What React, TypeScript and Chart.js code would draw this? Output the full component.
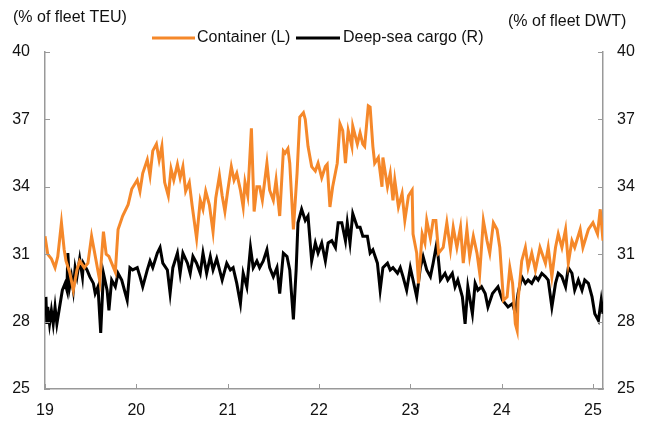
import { useEffect, useRef } from 'react';
import { Chart, registerables } from 'chart.js';

Chart.register(...registerables);

const containerYears = [
  19.00, 19.03, 19.07, 19.11, 19.14, 19.18, 19.21, 19.23, 19.27, 19.31,
  19.35, 19.38, 19.43, 19.47, 19.51, 19.56, 19.60, 19.64, 19.67, 19.70,
  19.77, 19.80, 19.85, 19.91, 19.95, 20.01, 20.04, 20.07, 20.12, 20.15,
  20.18, 20.22, 20.25, 20.28, 20.31, 20.35, 20.38, 20.41, 20.45, 20.48,
  20.51, 20.54, 20.58, 20.61, 20.63, 20.66, 20.70, 20.73, 20.76, 20.80,
  20.84, 20.87, 20.91, 20.94, 20.97, 21.00, 21.04, 21.07, 21.10, 21.14,
  21.17, 21.19, 21.22, 21.26, 21.29, 21.32, 21.35, 21.38, 21.43, 21.46,
  21.50, 21.53, 21.57, 21.61, 21.63, 21.66, 21.68, 21.72, 21.76, 21.79,
  21.83, 21.85, 21.88, 21.92, 21.96, 21.99, 22.03, 22.07, 22.09, 22.12,
  22.15, 22.20, 22.23, 22.26, 22.29, 22.32, 22.36, 22.37, 22.42, 22.45,
  22.48, 22.50, 22.54, 22.56, 22.59, 22.61, 22.65, 22.69, 22.70, 22.75,
  22.78, 22.81, 22.83, 22.87, 22.91, 22.94, 22.98, 23.02, 23.03, 23.07,
  23.09, 23.13, 23.16, 23.18, 23.22, 23.25, 23.28, 23.31, 23.36, 23.40,
  23.44, 23.47, 23.51, 23.55, 23.58, 23.62, 23.65, 23.69, 23.73, 23.76,
  23.80, 23.84, 23.87, 23.91, 23.95, 23.98, 24.02, 24.06, 24.09, 24.12,
  24.15, 24.17, 24.18, 24.22, 24.26, 24.29, 24.33, 24.37, 24.42, 24.48,
  24.51, 24.55, 24.59, 24.62, 24.66, 24.70, 24.73, 24.77, 24.80, 24.86,
  24.89, 24.95, 25.00, 25.05, 25.08, 25.11,
];

const containerValues = [
  31.8, 31.0, 30.8, 30.4, 30.9, 32.4, 31.2, 30.7, 30.2, 29.4,
  30.3, 30.7, 30.4, 30.6, 31.8, 30.7, 29.8, 32.0, 31.0, 30.9,
  30.2, 32.1, 32.7, 33.2, 33.9, 34.3, 33.8, 34.6, 35.2, 34.5,
  35.6, 35.9, 35.2, 35.8, 34.2, 33.6, 34.8, 34.3, 35.0, 34.4,
  34.9, 33.8, 34.2, 33.2, 32.6, 31.7, 33.4, 33.0, 33.8, 33.2,
  32.0, 33.5, 34.5, 33.6, 32.9, 33.8, 34.9, 34.3, 34.6, 33.85,
  33.1, 34.2, 33.6, 36.6, 32.9, 34.0, 34.0, 33.4, 35.05, 33.85,
  33.4, 34.3, 32.7, 35.6, 35.5, 35.7, 35.05, 32.1, 34.6, 37.1,
  37.3, 37.0, 35.8, 34.9, 34.7, 35.05, 34.4, 34.9, 35.0, 33.1,
  34.0, 35.05, 36.8, 36.5, 35.05, 36.5, 35.8, 36.7, 35.9, 36.4,
  35.9, 35.8, 37.6, 37.55, 35.8, 35.05, 35.3, 34.0, 35.3, 34.0,
  34.6, 33.4, 34.3, 33.1, 33.7, 32.5, 33.6, 33.85, 31.9, 31.05,
  29.7, 31.9, 31.5, 32.5, 31.7, 32.5, 32.5, 31.05, 31.3, 32.4,
  31.2, 32.2, 31.3, 32.2, 30.6, 32.1, 30.9, 31.8, 31.05, 30.15,
  32.5, 31.6, 31.05, 32.4, 32.1, 31.3, 28.95, 29.1, 30.4, 29.7,
  27.9, 27.6, 28.95, 30.7, 31.3, 30.4, 31.05, 30.3, 31.3, 30.6,
  31.3, 30.0, 31.3, 31.9, 31.3, 32.1, 30.6, 31.6, 31.3, 32.1,
  31.3, 32.1, 32.4, 31.9, 33.0, 31.6,
];

const deepSeaYears = [
  19.01, 19.02, 19.03, 19.05, 19.07, 19.09, 19.11, 19.13, 19.16, 19.19,
  19.22, 19.24, 19.25, 19.27, 19.29, 19.31, 19.33, 19.35, 19.38, 19.41,
  19.42, 19.46, 19.49, 19.53, 19.55, 19.58, 19.61, 19.64, 19.68, 19.70,
  19.73, 19.77, 19.80, 19.84, 19.88, 19.90, 19.93, 19.96, 20.01, 20.04,
  20.07, 20.12, 20.15, 20.18, 20.23, 20.26, 20.29, 20.34, 20.37, 20.40,
  20.45, 20.48, 20.51, 20.56, 20.59, 20.62, 20.66, 20.70, 20.73, 20.77,
  20.81, 20.84, 20.88, 20.94, 20.99, 21.03, 21.06, 21.10, 21.14, 21.17,
  21.21, 21.25, 21.28, 21.32, 21.35, 21.39, 21.43, 21.46, 21.50, 21.54,
  21.57, 21.61, 21.65, 21.68, 21.72, 21.75, 21.77, 21.81, 21.85, 21.88,
  21.92, 21.96, 21.99, 22.03, 22.07, 22.10, 22.14, 22.18, 22.21, 22.25,
  22.29, 22.31, 22.34, 22.37, 22.42, 22.45, 22.48, 22.53, 22.56, 22.59,
  22.64, 22.67, 22.70, 22.75, 22.78, 22.81, 22.86, 22.89, 22.92, 22.96,
  23.00, 23.03, 23.07, 23.11, 23.14, 23.18, 23.22, 23.25, 23.29, 23.33,
  23.38, 23.41, 23.46, 23.49, 23.52, 23.57, 23.60, 23.63, 23.68, 23.71,
  23.74, 23.78, 23.82, 23.85, 23.90, 23.93, 23.96, 24.01, 24.04, 24.07,
  24.12, 24.15, 24.18, 24.22, 24.26, 24.29, 24.33, 24.37, 24.40, 24.44,
  24.48, 24.51, 24.55, 24.59, 24.62, 24.66, 24.70, 24.73, 24.77, 24.80,
  24.84, 24.88, 24.91, 24.95, 24.99, 25.02, 25.06, 25.09, 25.11,
];

const deepSeaValues = [
  29.1, 27.9, 28.65, 27.9, 28.5, 27.9, 28.65, 27.9, 28.65, 29.4,
  29.7, 29.4, 31.05, 29.55, 30.0, 29.4, 30.4, 30.0, 30.8, 30.0,
  30.6, 30.3, 30.0, 29.7, 29.25, 29.55, 27.5, 30.15, 29.4, 28.5,
  29.85, 29.55, 30.15, 29.85, 29.25, 28.95, 30.4, 30.3, 30.4, 30.0,
  29.55, 30.3, 30.7, 30.4, 31.05, 31.3, 30.6, 30.3, 29.25, 30.4,
  31.05, 30.15, 31.05, 30.6, 30.15, 30.9, 30.6, 30.15, 31.05, 30.15,
  30.9, 30.3, 30.8, 29.85, 30.6, 30.3, 30.4, 29.7, 28.8, 30.15,
  29.55, 31.3, 30.4, 30.7, 30.4, 30.7, 31.2, 30.4, 30.0, 30.4,
  29.25, 31.05, 30.9, 30.3, 28.1, 30.3, 32.4, 33.0, 32.5, 32.7,
  30.7, 31.5, 31.05, 31.5, 30.7, 31.5, 31.6, 31.3, 32.4, 32.4,
  31.6, 32.4, 31.5, 32.8, 32.2, 32.2, 31.8, 31.8, 31.05, 31.2,
  30.6, 29.4, 30.4, 30.6, 30.3, 30.4, 30.15, 30.4, 30.0, 29.4,
  30.4, 29.85, 29.1, 30.4, 30.9, 30.3, 30.0, 30.6, 31.5, 29.85,
  30.15, 29.85, 30.15, 29.55, 29.85, 29.1, 27.9, 29.55, 28.35, 29.7,
  29.4, 29.55, 29.25, 28.65, 29.25, 29.4, 29.55, 28.95, 28.8, 28.65,
  28.8, 28.35, 29.25, 30.0, 29.7, 29.85, 29.7, 30.0, 29.85, 30.15,
  30.0, 29.85, 28.65, 29.7, 30.15, 30.0, 29.55, 30.4, 30.15, 29.4,
  29.85, 29.4, 29.85, 29.7, 29.1, 28.35, 28.05, 28.95, 28.35,
];

const xTickValues = [19, 20, 21, 22, 23, 24, 25];
const xTickLabels = ['19', '20', '21', '22', '23', '24', '25'];
const yTickValues = [25, 28, 31, 34, 37, 40];

const seriesLabels = ['Container (L)', 'Deep-sea cargo (R)'];
const leftAxisTitle = '(% of fleet TEU)';
const rightAxisTitle = '(% of fleet DWT)';

const ORANGE = '#F5882A';
const BLACK = '#000000';
const AXIS = '#999999';
const TEXT = '#111111';
const FONT_FAMILY = "'Liberation Sans', Arial, sans-serif";

const overlayPlugin = {
  id: 'overlay',
  afterDraw(chart: any) {
    const { ctx, chartArea, scales } = chart;
    ctx.save();
    ctx.strokeStyle = AXIS;
    ctx.lineWidth = 1;
    const yl = scales.yL;
    const x = scales.x;
    yTickValues.forEach((v) => {
      const py = Math.round(yl.getPixelForValue(v)) + 0.5;
      ctx.beginPath();
      ctx.moveTo(chartArea.left, py);
      ctx.lineTo(chartArea.left + 5, py);
      ctx.moveTo(chartArea.right - 5, py);
      ctx.lineTo(chartArea.right, py);
      ctx.stroke();
    });
    xTickValues.forEach((v) => {
      const px = Math.round(x.getPixelForValue(v)) + 0.5;
      ctx.beginPath();
      ctx.moveTo(px, chartArea.bottom);
      ctx.lineTo(px, chartArea.bottom - 5);
      ctx.stroke();
    });

    ctx.fillStyle = TEXT;
    ctx.font = `16px ${FONT_FAMILY}`;
    ctx.textBaseline = 'middle';
    ctx.textAlign = 'left';
    ctx.fillText(leftAxisTitle, 13, 18);
    ctx.fillText(rightAxisTitle, 508, 22);

    const ly = 38;
    ctx.lineWidth = 3;
    ctx.strokeStyle = ORANGE;
    ctx.beginPath();
    ctx.moveTo(152, ly);
    ctx.lineTo(195, ly);
    ctx.stroke();
    ctx.fillText(seriesLabels[0], 197, ly);
    ctx.strokeStyle = BLACK;
    ctx.beginPath();
    ctx.moveTo(296, ly);
    ctx.lineTo(340, ly);
    ctx.stroke();
    ctx.fillText(seriesLabels[1], 343, ly);
    ctx.restore();
  },
};

export default function App() {
  const ref = useRef<HTMLCanvasElement>(null);

  useEffect(() => {
    if (!ref.current) return;
    const tickFont = { family: FONT_FAMILY, size: 16 };
    const yAxisCommon = {
      type: 'linear' as const,
      min: 25,
      max: 40,
      afterBuildTicks: (s: any) => {
        s.ticks = yTickValues.map((v) => ({ value: v }));
      },
      grid: { display: false, drawTicks: false },
      border: { display: true, color: AXIS, width: 1.5 },
    };
    const chart = new Chart(ref.current, {
      type: 'line',
      data: {
        datasets: [
          {
            label: seriesLabels[0],
            data: containerYears.map((xv, i) => ({ x: xv, y: containerValues[i] })),
            borderColor: ORANGE,
            backgroundColor: ORANGE,
            borderWidth: 3,
            pointRadius: 0,
            tension: 0,
            yAxisID: 'yL',
          },
          {
            label: seriesLabels[1],
            data: deepSeaYears.map((xv, i) => ({ x: xv, y: deepSeaValues[i] })),
            borderColor: BLACK,
            backgroundColor: BLACK,
            borderWidth: 3,
            pointRadius: 0,
            tension: 0,
            yAxisID: 'yR',
          },
        ],
      },
      options: {
        responsive: false,
        animation: false,
        events: [],
        layout: { padding: { top: 52, left: 0, right: 0, bottom: 0 } },
        plugins: {
          legend: { display: false },
          tooltip: { enabled: false },
          title: { display: false },
        },
        scales: {
          x: {
            type: 'linear',
            min: 19,
            max: 25.11,
            afterBuildTicks: (s: any) => {
              s.ticks = xTickValues.map((v) => ({ value: v }));
            },
            afterFit: (s: any) => {
              s.height = 36;
            },
            ticks: {
              font: tickFont,
              color: TEXT,
              padding: 12,
              maxRotation: 0,
              autoSkip: false,
              callback: (v: any) => {
                const i = xTickValues.indexOf(Number(v));
                return i >= 0 ? xTickLabels[i] : '';
              },
            },
            grid: { display: false, drawTicks: false },
            border: { display: true, color: AXIS, width: 1.5 },
          },
          yL: {
            ...yAxisCommon,
            position: 'left',
            afterFit: (s: any) => {
              s.width = 45;
            },
            ticks: { font: tickFont, color: TEXT, padding: 15, autoSkip: false },
          },
          yR: {
            ...yAxisCommon,
            position: 'right',
            afterFit: (s: any) => {
              s.width = 49;
            },
            ticks: { font: tickFont, color: TEXT, padding: 14, autoSkip: false },
          },
        },
      } as any,
      plugins: [overlayPlugin],
    });
    return () => chart.destroy();
  }, []);

  return (
    <div style={{ position: 'absolute', left: 0, top: 0, width: 652, height: 425, background: '#fff' }}>
      <canvas ref={ref} width={652} height={425} style={{ display: 'block', width: 652, height: 425 }} />
    </div>
  );
}
